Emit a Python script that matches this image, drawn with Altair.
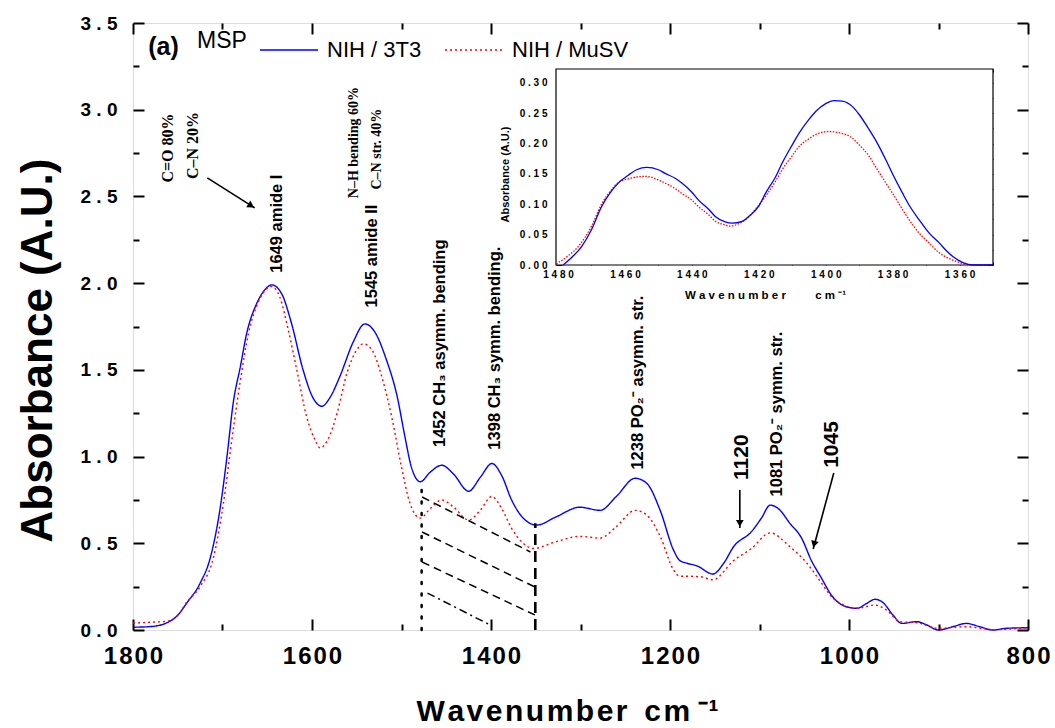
import altair as alt
import pandas as pd

# ---------------- data ----------------
series_names = ["NIH / 3T3", "NIH / MuSV"]

blue_w = [1800, 1780, 1762, 1750, 1740, 1725, 1714, 1703, 1695, 1688, 1680, 1673, 1662, 1653,
          1645, 1634, 1623, 1610, 1599, 1589, 1580, 1569, 1554, 1541, 1530, 1517, 1505, 1496,
          1489, 1479, 1468, 1455, 1442, 1425, 1412, 1399, 1388, 1377, 1364, 1349, 1327, 1301,
          1278, 1260, 1239, 1226, 1211, 1196, 1189, 1181, 1170, 1152, 1140, 1129, 1109, 1098,
          1088, 1079, 1066, 1053, 1042, 1032, 1018, 1003, 991, 980, 971, 962, 951, 941, 924,
          913, 900, 884, 869, 854, 839, 824, 800]
blue_v = [0.016, 0.02, 0.042, 0.085, 0.155, 0.27, 0.41, 0.69, 1.00, 1.31, 1.52, 1.71, 1.88, 1.96,
          1.99, 1.94, 1.77, 1.50, 1.34, 1.29, 1.34, 1.46, 1.66, 1.765, 1.72, 1.56, 1.35, 1.11,
          0.94, 0.855, 0.91, 0.95, 0.90, 0.80, 0.88, 0.96, 0.89, 0.75, 0.645, 0.605, 0.653, 0.708,
          0.69, 0.77, 0.875, 0.846, 0.69, 0.46, 0.40, 0.385, 0.37, 0.323, 0.385, 0.48, 0.567, 0.644,
          0.72, 0.70, 0.615, 0.53, 0.40, 0.31, 0.19, 0.134, 0.125, 0.154, 0.177, 0.158, 0.087, 0.038, 0.048,
          0.029, 0.0, 0.019, 0.038, 0.019, 0.0, 0.01, 0.013]

red_w = [1800, 1780, 1762, 1750, 1740, 1725, 1710, 1699, 1690, 1680, 1671, 1660, 1645, 1636,
         1626.5, 1617, 1606, 1597, 1591, 1582, 1572, 1561, 1550, 1542.6, 1533, 1522, 1511, 1500,
         1490.5, 1479, 1468, 1455, 1442, 1425, 1412, 1399, 1388, 1377, 1364, 1352.7, 1327, 1301,
         1278, 1260, 1239, 1226, 1211, 1196, 1189, 1181, 1166, 1152, 1129, 1109, 1088, 1066,
         1047, 1032, 1021, 1006, 991, 971, 958, 943, 924, 900, 869, 839, 800]
red_v = [0.04, 0.045, 0.05, 0.085, 0.16, 0.25, 0.42, 0.73, 1.08, 1.44, 1.71, 1.89, 1.98, 1.92,
         1.73, 1.50, 1.23, 1.10, 1.05, 1.10, 1.25, 1.48, 1.615, 1.65, 1.615, 1.46, 1.23, 0.94,
         0.73, 0.645, 0.70, 0.75, 0.71, 0.634, 0.69, 0.77, 0.70, 0.586, 0.50, 0.47, 0.51, 0.54,
         0.53, 0.596, 0.69, 0.663, 0.54, 0.346, 0.31, 0.31, 0.307, 0.29, 0.40, 0.47, 0.56, 0.48,
         0.385, 0.28, 0.20, 0.144, 0.125, 0.144, 0.115, 0.048, 0.042, 0.01, 0.019, 0.002, 0.013]

inset_blue_w = [1478.5, 1476, 1473, 1470, 1467, 1464, 1462, 1459, 1456.5, 1453.5, 1450, 1448, 1445,
                1443, 1440, 1438, 1435, 1433, 1430, 1428, 1425, 1423, 1420, 1418, 1415, 1413, 1410,
                1408, 1405, 1403, 1400, 1397.5, 1395, 1392, 1390, 1387, 1385, 1382, 1380, 1377,
                1375, 1372, 1369, 1366, 1364, 1362, 1359, 1356, 1350]
inset_blue_v = [0.0, 0.012, 0.03, 0.058, 0.096, 0.122, 0.135, 0.148, 0.157, 0.161, 0.157, 0.151, 0.143,
                0.135, 0.12, 0.107, 0.092, 0.080, 0.071, 0.069, 0.072, 0.080, 0.097, 0.118, 0.145, 0.168, 0.198,
                0.217, 0.240, 0.253, 0.266, 0.271, 0.27, 0.261, 0.248, 0.223, 0.205, 0.173, 0.15, 0.118,
                0.098, 0.074, 0.052, 0.036, 0.024, 0.014, 0.004, 0.0, 0.0]

inset_red_w = [1480.5, 1477, 1474, 1470, 1467, 1464, 1462, 1459, 1456.5, 1453.5, 1450, 1448, 1445,
               1443, 1440, 1438, 1435, 1433, 1430, 1429, 1426, 1423.5, 1421, 1418, 1415, 1413, 1410,
               1408, 1405, 1403, 1399, 1396, 1392, 1390, 1387, 1385, 1382, 1380, 1377, 1374, 1372,
               1369, 1366.5, 1364, 1361, 1357, 1350]
inset_red_v = [0.002, 0.015, 0.03, 0.064, 0.10, 0.124, 0.136, 0.142, 0.145, 0.146, 0.140, 0.135, 0.126,
               0.118, 0.107, 0.096, 0.083, 0.072, 0.066, 0.064, 0.068, 0.077, 0.092, 0.113, 0.138, 0.157, 0.18,
               0.195, 0.208, 0.215, 0.220, 0.218, 0.209, 0.198, 0.179, 0.161, 0.135, 0.118, 0.091, 0.066, 0.052,
               0.036, 0.022, 0.013, 0.006, 0.0, 0.0]

main_x_domain = [1800, 800]
main_y_domain = [0, 3.5]
inset_x_domain = [1480.6, 1350]
inset_y_domain = [0, 0.323]

main_x_major = [1800, 1600, 1400, 1200, 1000, 800]
main_x_minor = [1700, 1500, 1300, 1100, 900]
main_y_major = [0, 0.5, 1.0, 1.5, 2.0, 2.5, 3.0, 3.5]
main_y_minor = [0.25, 0.75, 1.25, 1.75, 2.25, 2.75, 3.25]
inset_x_major = [1480, 1460, 1440, 1420, 1400, 1380, 1360]
inset_x_minor = [1470, 1450, 1430, 1410, 1390, 1370, 1350]
inset_y_major = [0, 0.05, 0.10, 0.15, 0.20, 0.25, 0.30]
inset_y_minor = [0.025, 0.075, 0.125, 0.175, 0.225, 0.275]

# panel tag (anchored at its left baseline, in data units)
panel_text = ["(a)"]
panel_w = [1783]
panel_v = [3.315]

# annotation labels (anchored at their lower end, in data units)
peak_text = ["1649 amide I", "1545 amide II", "1452 CH\u2083 asymm. bending",
             "1398 CH\u2083 symm. bending.", "1238 PO\u2082\u207b asymm. str.", "1081 PO\u2082\u207b symm. str."]
peak_w = [1639.5, 1532.5, 1457, 1395.5, 1236, 1080]
peak_v = [2.06, 1.86, 1.055, 1.04, 0.925, 0.77]

bond_text = ["C=O 80%", "C\u2013N 20%"]
bond_w = [1761, 1733]
bond_v = [2.58, 2.60]

bond2_text = ["N\u2013H bending 60%", "C\u2013N str. 40%"]
bond2_w = [1553, 1527.5]
bond2_v = [2.49, 2.54]

big_text = ["1120", "1045"]
big_w = [1119.6, 1019]
big_v = [0.865, 0.935]

arrow_w1 = [1717, 1122, 1017]
arrow_v1 = [2.607, 0.807, 0.905]
arrow_w2 = [1664, 1122, 1040]
arrow_v2 = [2.434, 0.588, 0.467]
head_w = [1668, 1122, 1039]
head_v = [2.447, 0.615, 0.495]
head_angle = [122, 180, 195]

dotted_w = [1477.5]
dotted_top = [0.855]
dashed_w = [1350.5]
dashed_top = [0.615]
hatch_w1 = [1477, 1477, 1477]
hatch_v1 = [0.767, 0.565, 0.392]
hatch_w2 = [1356, 1351, 1351]
hatch_v2 = [0.45, 0.248, 0.087]
dashdot_w1 = [1471]
dashdot_v1 = [0.213]
dashdot_w2 = [1401]
dashdot_v2 = [0.029]

# ---------------- styling ----------------
SANS = "Liberation Sans, Arial, sans-serif"
SERIF = "Liberation Serif, Times New Roman, serif"
HAIR = "\u200a"
W, H = 895, 607
IX_RANGE = [423, 860]
IY_RANGE = [242, 46]

main_x_title = HAIR.join("Wavenumber") + " \u00a0" + HAIR.join("cm") + " \u207b\u00b9"


def msx():
    return alt.Scale(domain=main_x_domain, nice=False, zero=False)


def msy():
    return alt.Scale(domain=main_y_domain, nice=False, zero=False)


def isx():
    return alt.Scale(domain=inset_x_domain, range=IX_RANGE, nice=False, zero=False)


def isy():
    return alt.Scale(domain=inset_y_domain, range=IY_RANGE, nice=False, zero=False)


def tick_axis(orient, values, offset, size, width, **kw):
    d = dict(orient=orient, values=values, offset=offset, tickSize=size, tickWidth=width,
             tickColor="black", domain=False, grid=False, labels=False, title=None)
    d.update(kw)
    return alt.Axis(**d)


# main axes
ax_mb = tick_axis("bottom", main_x_major, -11, 11, 2, labels=True, format="d",
                  labelExpr="join(split(datum.label, ''), '\u200a')",
                  labelFont=SANS, labelFontSize=24, labelFontWeight="bold", labelColor="black",
                  labelBaseline="alphabetic", labelPadding=33, labelFlush=False, labelOverlap=False,
                  title=main_x_title, titleFont=SANS, titleFontSize=30,
                  titleFontWeight="bold", titleColor="black", titleX=434, titleY=101,
                  titleAlign="center", titleBaseline="alphabetic")
ax_mb2 = tick_axis("bottom", main_x_minor, -6, 6, 2)
ax_mt = tick_axis("top", main_x_major, -11, 11, 2)
ax_mt2 = tick_axis("top", main_x_minor, -6, 6, 2)
ax_ml = tick_axis("left", main_y_major, -11, 11, 2, labels=True, format=".1f",
                  labelExpr="join(split(datum.label, ''), ' ')",
                  labelFont=SANS, labelFontSize=19, labelFontWeight="bold", labelColor="black",
                  labelPadding=16, labelFlush=False, labelOverlap=False,
                  title="Absorbance (A.U.)", titleFont=SANS, titleFontSize=44, titleFontWeight="bold",
                  titleColor="black", titleX=-106, titleY=327, titleAngle=270, titleAlign="center",
                  titleBaseline="middle")
ax_ml2 = tick_axis("left", main_y_minor, -6, 6, 2)
ax_mr = tick_axis("right", main_y_major, -11, 11, 2)
ax_mr2 = tick_axis("right", main_y_minor, -6, 6, 2)

# inset axes
ax_ib = tick_axis("bottom", inset_x_major, (IY_RANGE[0] - H) - 6, 6, 1, labels=True, format="d",
                  labelExpr="join(split(datum.label, ''), ' ')",
                  labelFont=SANS, labelFontSize=10, labelFontWeight="bold", labelColor="black",
                  labelPadding=4, labelFlush=False, labelOverlap=False,
                  title="W a v e n u m b e r \u2003\u2003 c m \u207b\u00b9", titleFont=SANS, titleFontSize=11.5,
                  titleFontWeight="bold", titleColor="black", titleX=632, titleY=39,
                  titleAlign="center", titleBaseline="alphabetic")
ax_ib2 = tick_axis("bottom", inset_x_minor, (IY_RANGE[0] - H) - 3, 3, 1)
ax_it = tick_axis("top", inset_x_major, -(IY_RANGE[1] + 6), 6, 1)
ax_it2 = tick_axis("top", inset_x_minor, -(IY_RANGE[1] + 3), 3, 1)
ax_il = tick_axis("left", inset_y_major, -(IX_RANGE[0] + 6), 6, 1, labels=True, format=".2f",
                  labelExpr="join(split(datum.label, ''), ' ')",
                  labelFont=SANS, labelFontSize=10, labelFontWeight="bold", labelColor="black",
                  labelPadding=9, labelFlush=False, labelOverlap=False,
                  title="Absorbance (A.U.)", titleFont=SANS, titleFontSize=11, titleFontWeight="bold",
                  titleColor="black", titleX=-57, titleY=151, titleAngle=270, titleAlign="center",
                  titleBaseline="middle")
ax_il2 = tick_axis("left", inset_y_minor, -(IX_RANGE[0] + 3), 3, 1)
ax_ir = tick_axis("right", inset_y_major, (IX_RANGE[1] - W) - 6, 6, 1)
ax_ir2 = tick_axis("right", inset_y_minor, (IX_RANGE[1] - W) - 3, 3, 1)

# ---------------- tables ----------------
main_df = pd.DataFrame({
    "w": blue_w + red_w,
    "v": blue_v + red_v,
    "series": [series_names[0]] * len(blue_w) + [series_names[1]] * len(red_w),
})
inset_blue_df = pd.DataFrame({"w": inset_blue_w, "v": inset_blue_v})
inset_red_df = pd.DataFrame({"w": inset_red_w, "v": inset_red_v})
panel_df = pd.DataFrame({"t": panel_text, "w": panel_w, "v": panel_v})
peak_df = pd.DataFrame({"t": peak_text, "w": peak_w, "v": peak_v})
bond_df = pd.DataFrame({"t": bond_text, "w": bond_w, "v": bond_v})
bond2_df = pd.DataFrame({"t": bond2_text, "w": bond2_w, "v": bond2_v})
big_df = pd.DataFrame({"t": big_text, "w": big_w, "v": big_v})
arrow_df = pd.DataFrame({"w1": arrow_w1, "v1": arrow_v1, "w2": arrow_w2, "v2": arrow_v2})
head_df = pd.DataFrame({"w": head_w, "v": head_v, "a": head_angle})
dotted_df = pd.DataFrame({"w": dotted_w, "top": dotted_top, "bot": [0.0]})
dashed_df = pd.DataFrame({"w": dashed_w, "top": dashed_top, "bot": [0.0]})
hatch_df = pd.DataFrame({"w1": hatch_w1, "v1": hatch_v1, "w2": hatch_w2, "v2": hatch_v2})
dashdot_df = pd.DataFrame({"w1": dashdot_w1, "v1": dashdot_v1, "w2": dashdot_w2, "v2": dashdot_v2})
frame_df = pd.DataFrame({"x1": [inset_x_domain[0]], "x2": [inset_x_domain[1]],
                         "y1": [inset_y_domain[0]], "y2": [inset_y_domain[1]]})

legend = alt.Legend(orient="none", legendX=64, legendY=-3, direction="horizontal",
                    titleOrient="left", titleAnchor="middle", titleBaseline="middle",
                    titleFont=SANS, titleFontSize=23, titleFontWeight="normal",
                    titleColor="black", titlePadding=12, labelFont=SANS, labelFontSize=22,
                    labelColor="black", symbolType="stroke", symbolSize=3364, symbolStrokeWidth=1.5,
                    labelOffset=8, columnPadding=20, padding=0)

# ---------------- layers ----------------
lines = alt.Chart(main_df).mark_line(strokeWidth=1.4, interpolate="monotone").encode(
    x=alt.X("w:Q", scale=msx(), axis=ax_mb),
    y=alt.Y("v:Q", scale=msy(), axis=ax_ml),
    color=alt.Color("series:N", scale=alt.Scale(domain=series_names, range=["#0000ff", "#ff0000"]),
                    legend=legend, title="MSP"),
    strokeDash=alt.StrokeDash("series:N", scale=alt.Scale(domain=series_names, range=[[1, 0], [2, 3]]),
                              legend=legend, title="MSP"),
    order=alt.Order("w:Q", sort="descending"),
)

panel = alt.Chart(panel_df).mark_text(align="left", baseline="alphabetic", font=SANS,
                                      fontSize=25, fontWeight="bold", color="black").encode(
    x=alt.X("w:Q", scale=msx(), axis=None),
    y=alt.Y("v:Q", scale=msy(), axis=None),
    text="t:N",
)
peaks = alt.Chart(peak_df).mark_text(angle=270, align="left", baseline="middle", font=SANS,
                                     fontSize=16.5, fontWeight="bold", color="black").encode(
    x=alt.X("w:Q", scale=msx(), axis=ax_mb2),
    y=alt.Y("v:Q", scale=msy(), axis=ax_ml2),
    text="t:N",
)
bonds = alt.Chart(bond_df).mark_text(angle=270, align="left", baseline="middle", font=SERIF,
                                     fontSize=16, fontWeight="bold", color="black").encode(
    x=alt.X("w:Q", scale=msx(), axis=ax_mt),
    y=alt.Y("v:Q", scale=msy(), axis=ax_mr),
    text="t:N",
)
bonds2 = alt.Chart(bond2_df).mark_text(angle=270, align="left", baseline="middle", font=SERIF,
                                       fontSize=14, fontWeight="bold", color="black").encode(
    x=alt.X("w:Q", scale=msx(), axis=ax_mt2),
    y=alt.Y("v:Q", scale=msy(), axis=ax_mr2),
    text="t:N",
)
bigs = alt.Chart(big_df).mark_text(angle=270, align="left", baseline="middle", font=SANS,
                                   fontSize=21, fontWeight="bold", color="black").encode(
    x=alt.X("w:Q", scale=msx(), axis=None),
    y=alt.Y("v:Q", scale=msy(), axis=None),
    text="t:N",
)
arrows = alt.Chart(arrow_df).mark_rule(color="black", strokeWidth=1.6).encode(
    x=alt.X("w1:Q", scale=msx(), axis=None), x2="w2:Q",
    y=alt.Y("v1:Q", scale=msy(), axis=None), y2="v2:Q",
)
heads = alt.Chart(head_df).mark_point(shape="triangle-up", filled=True, color="black", size=60,
                                      opacity=1).encode(
    x=alt.X("w:Q", scale=msx(), axis=None),
    y=alt.Y("v:Q", scale=msy(), axis=None),
    angle=alt.Angle("a:Q", scale=None),
)
dotted = alt.Chart(dotted_df).mark_rule(color="black", strokeWidth=2.5, strokeDash=[2, 9.5],
                                        strokeCap="round").encode(
    x=alt.X("w:Q", scale=msx(), axis=None),
    y=alt.Y("bot:Q", scale=msy(), axis=None), y2="top:Q",
)
dashed = alt.Chart(dashed_df).mark_rule(color="black", strokeWidth=2.6, strokeDash=[11, 6]).encode(
    x=alt.X("w:Q", scale=msx(), axis=None),
    y=alt.Y("bot:Q", scale=msy(), axis=None), y2="top:Q",
)
hatch = alt.Chart(hatch_df).mark_rule(color="black", strokeWidth=1.5, strokeDash=[8, 5]).encode(
    x=alt.X("w1:Q", scale=msx(), axis=None), x2="w2:Q",
    y=alt.Y("v1:Q", scale=msy(), axis=None), y2="v2:Q",
)
dashdot = alt.Chart(dashdot_df).mark_rule(color="black", strokeWidth=1.5, strokeDash=[8, 4, 2, 4]).encode(
    x=alt.X("w1:Q", scale=msx(), axis=None), x2="w2:Q",
    y=alt.Y("v1:Q", scale=msy(), axis=None), y2="v2:Q",
)

frame = alt.Chart(frame_df).mark_rect(fill="white", stroke="black", strokeWidth=1.2).encode(
    x=alt.X("x1:Q", scale=isx(), axis=ax_ib), x2="x2:Q",
    y=alt.Y("y1:Q", scale=isy(), axis=ax_il), y2="y2:Q",
)
inset_blue = alt.Chart(inset_blue_df).mark_line(color="#0000ff", strokeWidth=1.3,
                                                interpolate="monotone").encode(
    x=alt.X("w:Q", scale=isx(), axis=ax_ib2),
    y=alt.Y("v:Q", scale=isy(), axis=ax_il2),
    order=alt.Order("w:Q", sort="descending"),
)
inset_red = alt.Chart(inset_red_df).mark_line(color="#ff0000", strokeWidth=1.3, strokeDash=[1.5, 1.5],
                                              interpolate="monotone").encode(
    x=alt.X("w:Q", scale=isx(), axis=ax_it),
    y=alt.Y("v:Q", scale=isy(), axis=ax_ir),
    order=alt.Order("w:Q", sort="descending"),
)
inset_ticks = alt.Chart(inset_blue_df).mark_point(opacity=0).encode(
    x=alt.X("w:Q", scale=isx(), axis=ax_it2),
    y=alt.Y("v:Q", scale=isy(), axis=ax_ir2),
)

chart = alt.layer(
    lines, panel, peaks, bonds, bonds2, bigs, arrows, heads, dotted, dashed, hatch, dashdot,
    frame, inset_red, inset_blue, inset_ticks,
).resolve_scale(
    x="independent", y="independent"
).properties(
    width=W, height=H,
    autosize=alt.AutoSizeParams(type="none"),
    padding={"left": 133, "top": 23, "right": 27, "bottom": 98},
).configure_view(
    stroke="black", strokeWidth=2
).configure(background="white")

chart.save("out.html", embed_options={"renderer": "svg", "actions": False})
